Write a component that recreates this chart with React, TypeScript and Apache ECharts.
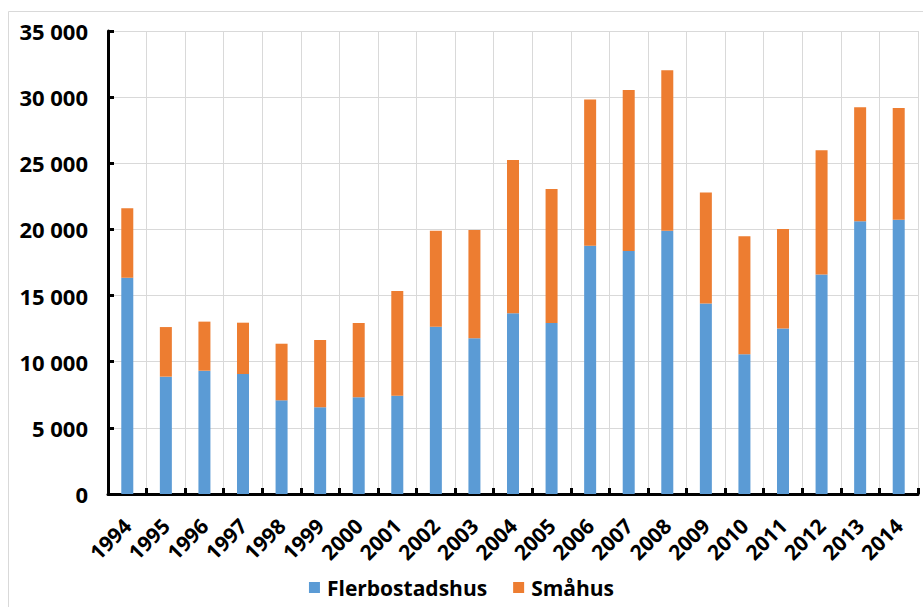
import React, { useEffect, useRef } from "react";
import * as echarts from "echarts";

const years = ["1994","1995","1996","1997","1998","1999","2000","2001","2002","2003","2004","2005","2006","2007","2008","2009","2010","2011","2012","2013","2014"];
const flerbostadshus = [16350, 8870, 9320, 9070, 7080, 6550, 7310, 7430, 12650, 11780, 13660, 12930, 18770, 18370, 19900, 14410, 10560, 12520, 16600, 20610, 20740];
const totals = [21600, 12620, 13030, 12950, 11360, 11640, 12930, 15350, 19900, 19960, 25250, 23050, 29830, 30540, 32030, 22800, 19480, 20030, 25980, 29230, 29180];
const smahus = totals.map((t, i) => t - flerbostadshus[i]);

const FONT = "'Open Sans', 'DejaVu Sans', sans-serif";

export default function App() {
  const ref = useRef<HTMLDivElement>(null);
  useEffect(() => {
    const chart = echarts.init(ref.current!, undefined, { renderer: "svg" });
    chart.setOption({
      animation: false,
      backgroundColor: "#ffffff",
      graphic: [
        {
          type: "rect",
          shape: { x: 8.5, y: 11.5, width: 930, height: 620 },
          style: { fill: "none", stroke: "#d9d9d9", lineWidth: 1 },
          silent: true,
        },
      ],
      grid: { left: 108, right: 5, top: 31, bottom: 113, containLabel: false },
      legend: {
        bottom: 4,
        left: "center",
        icon: "rect",
        itemWidth: 11,
        itemHeight: 11,
        itemGap: 26,
        textStyle: { fontFamily: FONT, fontWeight: "bold", fontSize: 21, color: "#000", padding: [0, 0, 0, 2] },
        data: ["Flerbostadshus", "Småhus"],
      },
      xAxis: {
        type: "category",
        data: years,
        axisLine: { lineStyle: { color: "#000", width: 3 } },
        axisTick: { show: true, inside: true, length: 6, lineStyle: { color: "#000", width: 3 } },
        splitLine: { show: true, lineStyle: { color: "#d9d9d9", width: 1 } },
        axisLabel: {
          rotate: 45,
          interval: 0,
          margin: 28,
          fontFamily: FONT,
          fontWeight: "bold",
          fontSize: 21,
          color: "#000",
        },
      },
      yAxis: {
        type: "value",
        min: 0,
        max: 35000,
        interval: 5000,
        axisLine: { show: true, lineStyle: { color: "#000", width: 3 } },
        axisTick: { show: true, inside: true, length: 6, lineStyle: { color: "#000", width: 3 } },
        splitLine: { show: true, lineStyle: { color: "#d9d9d9", width: 1 } },
        axisLabel: {
          margin: 20,
          fontFamily: FONT,
          fontWeight: "bold",
          fontSize: 22,
          color: "#000",
          formatter: (v: number) => String(v).replace(/\B(?=(\d{3})+(?!\d))/g, " "),
        },
      },
      series: [
        {
          name: "Flerbostadshus",
          type: "bar",
          stack: "total",
          barWidth: 12,
          data: flerbostadshus,
          itemStyle: { color: "#5b9bd5" },
        },
        {
          name: "Småhus",
          type: "bar",
          stack: "total",
          barWidth: 12,
          data: smahus,
          itemStyle: { color: "#ed7d31" },
        },
      ],
    });
    return () => chart.dispose();
  }, []);
  return (
    <div
      ref={ref}
      style={{ position: "fixed", left: 0, top: 0, width: 923, height: 607 }}
    />
  );
}
